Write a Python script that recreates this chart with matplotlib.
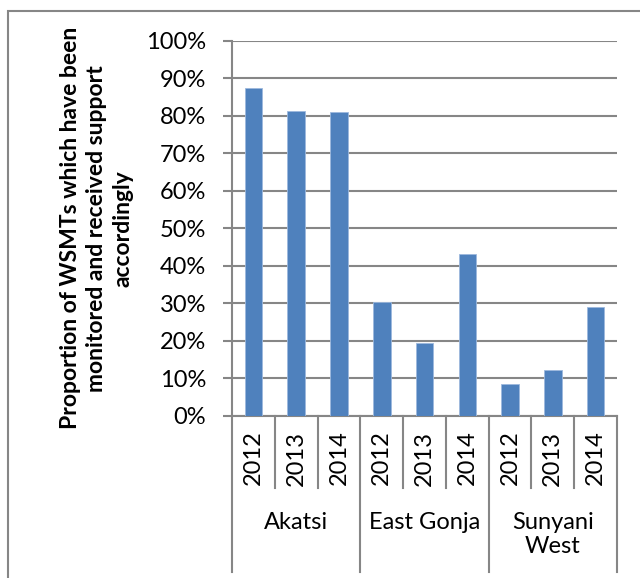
import matplotlib
matplotlib.use("Agg")
import matplotlib.pyplot as plt
from matplotlib.patches import Rectangle
from matplotlib.ticker import PercentFormatter

# WSMT monitoring by district and year
districts = ["Akatsi", "East Gonja", "Sunyani\nWest"]
years = ["2012", "2013", "2014"]
akatsi = [87.3, 81.3, 81.0]
east_gonja = [30.4, 19.3, 43.1]
sunyani_west = [8.4, 12.3, 28.9]

values = akatsi + east_gonja + sunyani_west
year_labels = years * len(districts)

plt.rcParams['font.family'] = ['Lato', 'DejaVu Sans']
grey = "#868686"
blue = "#4F81BD"

fig = plt.figure(figsize=(6.4, 5.78), dpi=100)
ax = fig.add_axes([0.3625, 0.2808, 0.6016, 0.6488])

x = list(range(len(values)))
ax.bar(x, values, width=0.41, color=blue, edgecolor="#9DB9DE", linewidth=0.6, zorder=3)

ax.set_xlim(-0.5, len(values) - 0.5)
ax.set_ylim(0, 100)
ax.set_yticks(range(0, 101, 10))
ax.yaxis.set_major_formatter(PercentFormatter(decimals=0))
ax.tick_params(axis="y", labelsize=17, length=6.5, width=1.5, color=grey, pad=12)
ax.set_xticks([])
ax.grid(axis="y", color=grey, linewidth=1.5, zorder=0)

for side in ["top", "right"]:
    ax.spines[side].set_visible(False)
for side in ["left", "bottom"]:
    ax.spines[side].set_color(grey)
    ax.spines[side].set_linewidth(1.5)

ax.set_ylabel("Proportion of WSMTs which have been\nmonitored and received support\naccordingly",
              fontsize=16.5, fontweight="bold", labelpad=9, linespacing=1.32)

# two-level category axis: years under each bar, districts underneath
trans = ax.get_xaxis_transform()
for i in range(len(values) + 1):
    pos = i - 0.5
    low = -0.417 if i % 3 == 0 else -0.193
    ax.plot([pos, pos], [0, low], color=grey, linewidth=1.5, transform=trans, clip_on=False)

for i, lab in enumerate(year_labels):
    ax.text(i, -0.113, lab, rotation=90, ha="center", va="center", fontsize=17,
            transform=trans)

for g, name in enumerate(districts):
    ax.text(g * 3 + 1, -0.257, name, ha="center", va="top", fontsize=17,
            linespacing=1.2, transform=trans)

# chart area border
fig.patches.append(Rectangle((0.0125, -0.1), 1.2, 0.1 + 0.981, transform=fig.transFigure,
                             fill=False, edgecolor=grey, linewidth=1.5))

fig.savefig("out.png", dpi=100)
